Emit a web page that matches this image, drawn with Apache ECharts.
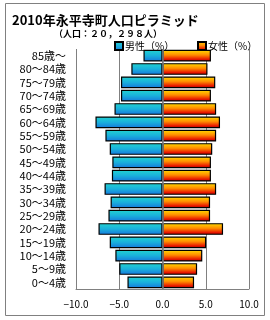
<!DOCTYPE html>
<html><head><meta charset="utf-8">
<script src="https://cdn.jsdelivr.net/npm/echarts@6/dist/echarts.min.js"></script>
<style>html,body{margin:0;padding:0;background:#fff}#c{width:270px;height:320px}</style>
</head><body><div id="c"></div>
<script>
var ageGroups = ['0～4歳','5～9歳','10～14歳','15～19歳','20～24歳','25～29歳','30～34歳','35～39歳','40～44歳','45～49歳','50～54歳','55～59歳','60～64歳','65～69歳','70～74歳','75～79歳','80～84歳','85歳～'];
var maleValues = [4.05, 5.0, 5.45, 6.1, 7.4, 6.25, 6.0, 6.7, 5.85, 5.8, 6.1, 6.6, 7.75, 5.55, 4.8, 4.8, 3.6, 2.2];
var femaleValues = [3.65, 4.0, 4.6, 5.05, 7.0, 5.5, 5.5, 6.2, 5.6, 5.6, 5.75, 6.2, 6.65, 6.2, 5.6, 6.1, 5.2, 5.6];
var xTicks = [-10, -5, 0, 5, 10];
var titleText = '2010年永平寺町人口ピラミッド';
var subtitleText = '（人口：２０，２９８人）';
var maleName = '男性（%）';
var femaleName = '女性（%）';

var font = '"Noto Sans CJK JP", sans-serif';
var maleGrad = new echarts.graphic.LinearGradient(0,0,0,1,[
  {offset:0,color:'#22d4d0'},{offset:0.5,color:'#1ab0dc'},{offset:1,color:'#1676dc'}]);
var femaleGrad = new echarts.graphic.LinearGradient(0,0,0,1,[
  {offset:0,color:'#ffe000'},{offset:0.45,color:'#ff8a00'},{offset:0.8,color:'#e81800'},{offset:1,color:'#a00000'}]);

var chart = echarts.init(document.getElementById('c'), null, {renderer:'canvas'});
chart.setOption({
  animation:false,
  backgroundColor:'#fff',
  graphic:[{type:'rect', shape:{x:5.5,y:3.5,width:259,height:312}, style:{fill:'none', stroke:'#808080', lineWidth:1}, silent:true}],
  title:[
    {text:titleText, left:7, top:9, textStyle:{fontFamily:font, fontSize:13, fontWeight:'bold', color:'#000'}},
    {text:subtitleText, left:49, top:24, textStyle:{fontFamily:font, fontSize:9, fontWeight:'bold', color:'#000'}}
  ],
  legend:[
    {data:[{name:maleName}], left:109, top:36, itemWidth:8, itemHeight:8, itemGap:2, textStyle:{fontFamily:font, fontSize:10, color:'#000', padding:[0,0,0,-3]}, icon:'rect'},
    {data:[{name:femaleName}], left:192, top:36, itemWidth:8, itemHeight:8, itemGap:2, textStyle:{fontFamily:font, fontSize:10, color:'#000', padding:[0,0,0,-3]}, icon:'rect'}
  ],
  grid:{left:76, right:21, top:49, bottom:31, containLabel:false},
  xAxis:{
    type:'value', min:xTicks[0], max:xTicks[xTicks.length-1], interval:5,
    axisLine:{show:true, lineStyle:{color:'#808080'}},
    axisTick:{show:false},
    splitLine:{show:true, lineStyle:{color:'#808080', width:1}},
    axisLabel:{fontFamily:font, fontSize:10, color:'#000', margin:10,
      formatter:function(v){ return (v<0?'−':'') + Math.abs(v).toFixed(1); }}
  },
  yAxis:{
    type:'category', data:ageGroups,
    axisLine:{show:false}, axisTick:{show:false},
    splitLine:{show:false},
    axisLabel:{interval:0, fontFamily:font, fontSize:11, color:'#000', margin:10}
  },
  series:[
    {name:maleName, type:'bar', stack:'p', barCategoryGap:'12%',
     data:maleValues.map(function(v){return -v;}),
     itemStyle:{color:maleGrad, borderColor:'#000', borderWidth:1.2}},
    {name:femaleName, type:'bar', stack:'p', barCategoryGap:'12%',
     data:femaleValues,
     itemStyle:{color:femaleGrad, borderColor:'#000', borderWidth:1.2},
     markLine:{silent:true, symbol:'none', label:{show:false}, z:10,
       lineStyle:{color:'#808080', width:1.5, type:'solid'}, data:[{xAxis:0}]}}
  ]
});
</script></body></html>
